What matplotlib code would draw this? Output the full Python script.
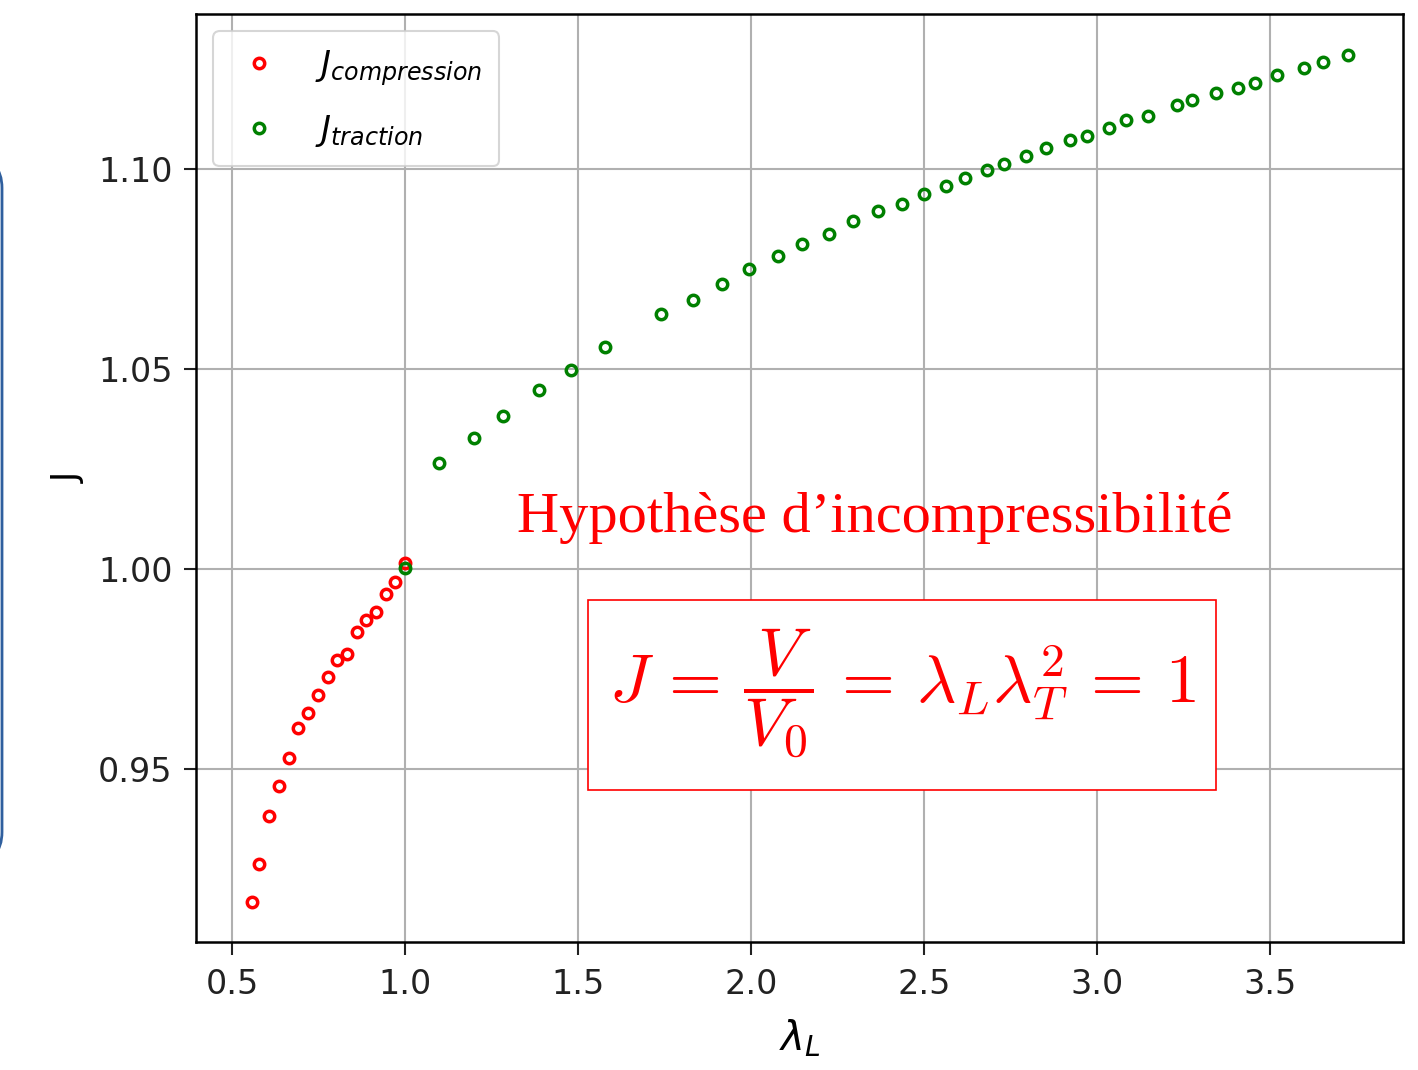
import matplotlib
matplotlib.use("Agg")
import matplotlib.pyplot as plt
from matplotlib.patches import FancyBboxPatch, Rectangle

# lambda_L and J
lam_compression = [0.558, 0.579, 0.607, 0.636, 0.664, 0.692, 0.721, 0.749, 0.777,
                   0.804, 0.833, 0.860, 0.888, 0.916, 0.944, 0.972, 1.000]
J_compression = [0.9168, 0.9263, 0.9383, 0.9458, 0.9528, 0.9603, 0.9641, 0.9685, 0.9730,
                 0.9774, 0.9787, 0.9843, 0.9874, 0.9893, 0.9937, 0.9968, 1.0016]

lam_traction = [1.000, 1.099, 1.199, 1.282, 1.388, 1.479, 1.578, 1.740, 1.831, 1.915,
                1.993, 2.077, 2.148, 2.225, 2.296, 2.366, 2.436, 2.500, 2.564, 2.619,
                2.682, 2.731, 2.795, 2.852, 2.922, 2.970, 3.034, 3.084, 3.147, 3.232,
                3.274, 3.344, 3.407, 3.456, 3.519, 3.597, 3.654, 3.725]
J_traction = [1.0002, 1.0265, 1.0328, 1.0384, 1.0448, 1.0498, 1.0555, 1.0637, 1.0674, 1.0713,
              1.0750, 1.0782, 1.0813, 1.0838, 1.0870, 1.0895, 1.0914, 1.0939, 1.0959, 1.0978,
              1.0997, 1.1014, 1.1034, 1.1053, 1.1072, 1.1083, 1.1102, 1.1122, 1.1134, 1.1160,
              1.1172, 1.1191, 1.1203, 1.1216, 1.1236, 1.1254, 1.1267, 1.1285]

x_ticks = [0.5, 1.0, 1.5, 2.0, 2.5, 3.0, 3.5]
y_ticks = [0.95, 1.00, 1.05, 1.10]

W, H = 1418, 1070
fig = plt.figure(figsize=(W / 100, H / 100), dpi=100)
ax = fig.add_axes([196 / W, 1 - 942 / H, (1403 - 196) / W, (942 - 14) / H])

ax.plot(lam_compression, J_compression, 'o', mfc='none', mec='red', ms=7.5, mew=2.5,
        label=r'$J_{compression}$')
ax.plot(lam_traction, J_traction, 'o', mfc='none', mec='green', ms=7.5, mew=2.5,
        label=r'$J_{traction}$')

ax.set_xlim(0.396, 3.884)
ax.set_ylim(0.9068, 1.1388)
ax.set_xticks(x_ticks)
ax.set_yticks(y_ticks)
ax.set_xticklabels([f'{v:.1f}' for v in x_ticks])
ax.set_yticklabels([f'{v:.2f}' for v in y_ticks])
ax.grid(True, color='#b0b0b0', lw=1.5)
ax.tick_params(labelsize=24, length=9, width=1.5, colors='#222222')
ax.tick_params(axis='x', pad=10)
ax.tick_params(axis='y', pad=8)
for s in ax.spines.values():
    s.set_linewidth(1.8)

ax.set_xlabel(r'$\lambda_L$', fontsize=29, labelpad=12)
ax.set_ylabel('J', fontsize=25, labelpad=9)

leg = ax.legend(loc='upper left', fontsize=24.5, numpoints=1, borderaxespad=0.5,
                handlelength=1.7, handletextpad=0.8, labelspacing=0.75, borderpad=0.5,
                framealpha=0.8)
leg.get_frame().set_linewidth(1.5)

# annotation
fig.text(517 / W, 1 - 532 / H, 'Hypothèse d\u2019incompressibilité', color='red',
         fontsize=42, family='Liberation Serif', ha='left', va='baseline')
fig.patches.append(Rectangle((588 / W, 1 - 790 / H), (1216 - 588) / W, (790 - 600) / H,
                             transform=fig.transFigure, fill=True, facecolor='white',
                             edgecolor='red', lw=1.2, zorder=3))
fig.text(902 / W, 1 - 693 / H,
         r'$J\,=\,\dfrac{V}{V_0}\,=\,\lambda_L\lambda_T^2\,=\,1$',
         color='red', fontsize=49, math_fontfamily='cm', ha='center', va='center',
         zorder=4)

# slide frame cut at the left edge
fig.patches.append(FancyBboxPatch((-1.0, (H - 862) / 100), 1.02, (862 - 158) / 100,
                                  boxstyle='round,pad=0,rounding_size=0.3',
                                  transform=fig.dpi_scale_trans, fill=False,
                                  edgecolor='#2f5f9e', lw=2))

fig.savefig('out.png', dpi=100)
